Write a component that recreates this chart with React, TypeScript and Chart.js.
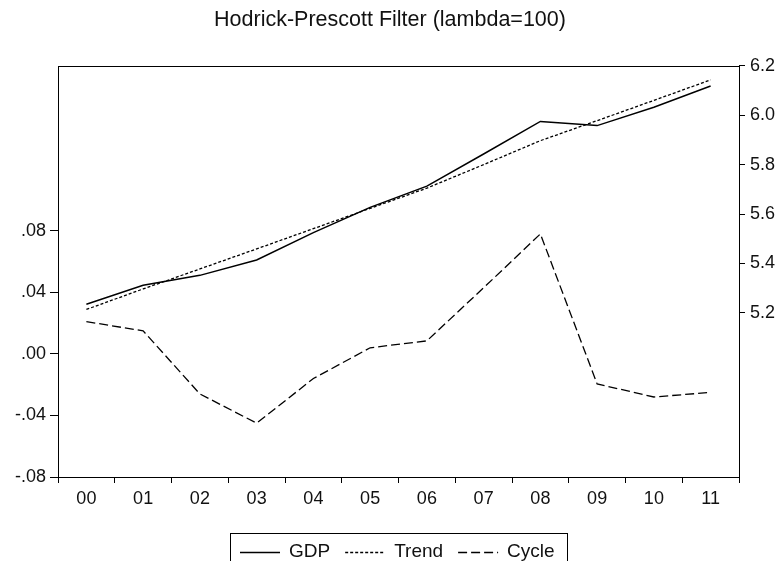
import React, { useEffect, useRef } from "react";
import { Chart, registerables } from "chart.js";

Chart.register(...registerables);

const years = ["00", "01", "02", "03", "04", "05", "06", "07", "08", "09", "10", "11"];
const gdp = [5.235, 5.312, 5.352, 5.414, 5.525, 5.627, 5.713, 5.843, 5.975, 5.958, 6.032, 6.118];
const trend = [5.214, 5.297, 5.378, 5.459, 5.541, 5.623, 5.705, 5.8, 5.897, 5.978, 6.06, 6.143];
const cycle = [0.021, 0.015, -0.026, -0.045, -0.016, 0.004, 0.0085, 0.043, 0.078, -0.0195, -0.028, -0.025];
const leftTicks = [-0.08, -0.04, 0, 0.04, 0.08];
const rightTicks = [5.2, 5.4, 5.6, 5.8, 6.0, 6.2];
const leftRange = [-0.08, 0.1873];
const rightRange = [4.536, 6.2];
const titleText = "Hodrick-Prescott Filter (lambda=100)";

const FONT = "'Liberation Sans', Arial, sans-serif";

const fmtLeft = (v: number) => {
  const s = Math.abs(v).toFixed(2).replace(/^0/, "");
  return (v < -1e-9 ? "-" : "") + s;
};

const framePlugin = {
  id: "frameLegend",
  afterDraw(chart: any) {
    const { ctx, chartArea: a } = chart;
    ctx.save();
    ctx.strokeStyle = "#000";
    ctx.lineWidth = 1;
    ctx.setLineDash([]);
    ctx.strokeRect(Math.round(a.left) + 0.5, Math.round(a.top) + 0.5, Math.round(a.right - a.left), Math.round(a.bottom - a.top));

    // legend
    const items = chart.data.datasets.map((ds: any) => ({
      label: ds.label,
      dash: ds.borderDash || [],
      width: ds.borderWidth || 1,
    }));
    ctx.font = `19px ${FONT}`;
    const L = 40, g1 = 9, g2 = 15, padL = 10, padR = 12;
    let total = padL;
    items.forEach((it: any, i: number) => {
      total += L + g1 + ctx.measureText(it.label).width + (i < items.length - 1 ? g2 : 0);
    });
    total += padR;
    const cx = (a.left + a.right) / 2;
    let x = Math.round(cx - total / 2);
    const top = 533;
    ctx.strokeRect(x + 0.5, top + 0.5, Math.round(total), 40);
    const cy = 552;
    x += padL;
    ctx.fillStyle = "#111";
    ctx.textBaseline = "middle";
    ctx.textAlign = "left";
    items.forEach((it: any) => {
      ctx.beginPath();
      ctx.setLineDash(it.dash);
      ctx.lineWidth = it.width;
      ctx.moveTo(x, cy + 0.5);
      ctx.lineTo(x + L, cy + 0.5);
      ctx.stroke();
      ctx.setLineDash([]);
      x += L + g1;
      ctx.fillText(it.label, x, cy);
      x += ctx.measureText(it.label).width + g2;
    });
    ctx.restore();
  },
};

export default function App() {
  const ref = useRef<HTMLCanvasElement | null>(null);
  useEffect(() => {
    if (!ref.current) return;
    Chart.defaults.font.family = FONT;
    Chart.defaults.color = "#111";
    const chart = new Chart(ref.current, {
      type: "line",
      data: {
        labels: years,
        datasets: [
          {
            label: "GDP",
            data: gdp,
            yAxisID: "y1",
            borderColor: "#000",
            borderWidth: 1.5,
            borderDash: [],
            pointRadius: 0,
            tension: 0,
            fill: false,
          },
          {
            label: "Trend",
            data: trend,
            yAxisID: "y1",
            borderColor: "#000",
            borderWidth: 1.3,
            borderDash: [3, 2],
            pointRadius: 0,
            tension: 0,
            fill: false,
          },
          {
            label: "Cycle",
            data: cycle,
            yAxisID: "y",
            borderColor: "#000",
            borderWidth: 1.3,
            borderDash: [9, 4],
            pointRadius: 0,
            tension: 0,
            fill: false,
          },
        ],
      },
      options: {
        responsive: false,
        animation: false,
        layout: { padding: 0 },
        plugins: {
          legend: { display: false },
          tooltip: { enabled: false },
          title: {
            display: true,
            text: titleText,
            color: "#111",
            font: { size: 21.5, weight: "normal", family: FONT },
            padding: { top: 7, bottom: 33 },
          },
        },
        scales: {
          x: {
            type: "category",
            offset: true,
            grid: { offset: true, drawOnChartArea: false, drawTicks: true, tickLength: 6, color: "#000" },
            border: { display: false },
            ticks: { font: { size: 18 }, color: "#111", padding: 5, maxRotation: 0, autoSkip: false },
            afterFit: (s: any) => { s.height = 84; },
          },
          y: {
            type: "linear",
            position: "left",
            min: leftRange[0],
            max: leftRange[1],
            grid: { drawOnChartArea: false, drawTicks: true, tickLength: 8, color: "#000" },
            border: { display: false },
            ticks: { font: { size: 18 }, color: "#111", padding: 4, callback: (v: any) => fmtLeft(Number(v)) },
            afterBuildTicks: (s: any) => { s.ticks = leftTicks.map((v) => ({ value: v })); },
            afterFit: (s: any) => { s.width = 58; },
          },
          y1: {
            type: "linear",
            position: "right",
            min: rightRange[0],
            max: rightRange[1],
            grid: { drawOnChartArea: false, drawTicks: true, tickLength: 6, color: "#000" },
            border: { display: false },
            ticks: { font: { size: 18 }, color: "#111", padding: 5, callback: (v: any) => Number(v).toFixed(1) },
            afterBuildTicks: (s: any) => { s.ticks = rightTicks.map((v) => ({ value: v })); },
            afterFit: (s: any) => { s.width = 41; },
          },
        },
      },
      plugins: [framePlugin],
    });
    return () => chart.destroy();
  }, []);
  return (
    <div style={{ position: "fixed", left: 0, top: 0, width: 780, height: 561, background: "#fff" }}>
      <canvas ref={ref} width={780} height={561} />
    </div>
  );
}
